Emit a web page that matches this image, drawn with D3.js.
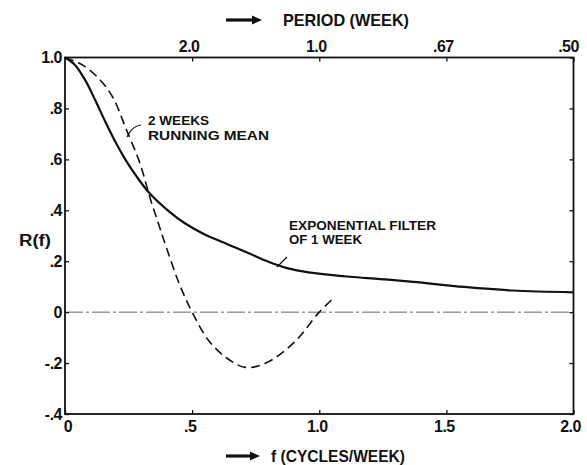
<!DOCTYPE html>
<html>
<head>
<meta charset="utf-8">
<script src="https://cdn.jsdelivr.net/npm/d3@7"></script>
<style>
  html, body { margin: 0; padding: 0; background: #fff; }
  svg { display: block; }
  text { font-family: "Liberation Sans", Arial, sans-serif; font-weight: bold; fill: #111; }
</style>
</head>
<body>
<svg id="chart" width="587" height="465"></svg>
<script>
// ---- data ----
const freqTicks = [0, 0.5, 1.0, 1.5, 2.0];
const freqLabels = ["0", ".5", "1.0", "1.5", "2.0"];
const periodTicks = [0.5, 1.0, 1.5, 2.0];
const periodLabels = ["2.0", "1.0", ".67", ".50"];
const rTicks = [-0.4, -0.2, 0, 0.2, 0.4, 0.6, 0.8, 1.0];
const rLabels = ["-.4", "-.2", "0", ".2", ".4", ".6", ".8", "1.0"];

const expF = [0, 0.04, 0.08, 0.12, 0.16, 0.20, 0.24, 0.28, 0.33, 0.41, 0.47, 0.54, 0.60, 0.67, 0.73, 0.80, 0.87, 0.93, 0.99, 1.12, 1.24, 1.37, 1.57, 1.76, 2.0];
const expR = [1.0, 0.97, 0.91, 0.83, 0.745, 0.665, 0.595, 0.535, 0.47, 0.395, 0.35, 0.31, 0.283, 0.254, 0.228, 0.198, 0.174, 0.161, 0.152, 0.139, 0.13, 0.119, 0.099, 0.085, 0.078];

const runF = [0, 0.07, 0.14, 0.19, 0.24, 0.295, 0.334, 0.37, 0.40, 0.45, 0.50, 0.564, 0.636, 0.71, 0.79, 0.90, 1.0, 1.055];
const runR = [1.0, 0.97, 0.91, 0.84, 0.72, 0.584, 0.45, 0.34, 0.25, 0.11, 0.0, -0.11, -0.18, -0.217, -0.20, -0.12, 0.0, 0.054];

// ---- chart ----
const svg = d3.select("#chart");
const x = d3.scaleLinear().domain([0, 2]).range([65, 573.5]);
const y = d3.scaleLinear().domain([-0.4, 1.0]).range([414, 57.5]);
const ink = "#111";

// zero line (dash-dot)
svg.append("line")
  .attr("x1", x(0)).attr("x2", x(2)).attr("y1", y(0)).attr("y2", y(0))
  .attr("stroke", "#666").attr("stroke-width", 1)
  .attr("stroke-dasharray", "18,3,3,3");

// axes (ticks inward)
const tickLen = 4;
const axLeft = svg.append("g").attr("transform", `translate(${x(0)},0)`)
  .call(d3.axisRight(y).tickValues(rTicks).tickSize(tickLen).tickFormat(""));
const axRight = svg.append("g").attr("transform", `translate(${x(2)},0)`)
  .call(d3.axisLeft(y).tickValues(rTicks).tickSize(tickLen).tickFormat(""));
const axBottom = svg.append("g").attr("transform", `translate(0,${y(-0.4)})`)
  .call(d3.axisTop(x).tickValues(freqTicks).tickSize(tickLen).tickFormat(""));
const axTop = svg.append("g").attr("transform", `translate(0,${y(1.0)})`)
  .call(d3.axisBottom(x).tickValues(periodTicks).tickSize(tickLen).tickFormat(""));
[axLeft, axRight, axBottom, axTop].forEach(g => {
  g.select(".domain").remove();
  g.selectAll(".tick line").attr("stroke", ink).attr("stroke-width", 1.3);
});

// frame
svg.append("rect")
  .attr("x", x(0)).attr("y", y(1.0))
  .attr("width", x(2) - x(0)).attr("height", y(-0.4) - y(1.0))
  .attr("fill", "none").attr("stroke", ink).attr("stroke-width", 1.8);

// tick labels
svg.append("g").selectAll("text").data(rTicks).join("text")
  .attr("x", x(0) - 3).attr("y", d => y(d)).attr("dy", "0.36em")
  .attr("text-anchor", "end").attr("font-size", 16)
  .attr("letter-spacing", -0.5)
  .text((d, i) => rLabels[i]);
svg.append("g").selectAll("text").data(freqTicks).join("text")
  .attr("x", (d, i) => x(d) + (i === 0 ? 3 : (i === freqTicks.length - 1 ? -3 : -2)))
  .attr("y", 432)
  .attr("text-anchor", "middle").attr("font-size", 16)
  .attr("letter-spacing", -0.5)
  .text((d, i) => freqLabels[i]);
svg.append("g").selectAll("text").data(periodTicks).join("text")
  .attr("x", (d, i) => x(d) + (i === periodTicks.length - 1 ? -5 : -3))
  .attr("y", 52)
  .attr("text-anchor", "middle").attr("font-size", 16)
  .attr("letter-spacing", -0.5)
  .text((d, i) => periodLabels[i]);

// curves
const line = d3.line().x(d => x(d[0])).y(d => y(d[1])).curve(d3.curveCatmullRom.alpha(0.5));
svg.append("path")
  .datum(expF.map((f, i) => [f, expR[i]]))
  .attr("d", line).attr("fill", "none")
  .attr("stroke", ink).attr("stroke-width", 2.2);
svg.append("path")
  .datum(runF.map((f, i) => [f, runR[i]]))
  .attr("d", line).attr("fill", "none")
  .attr("stroke", ink).attr("stroke-width", 1.6)
  .attr("stroke-dasharray", "9,5");

// annotations
function label(txt, tx, ty, len, size) {
  svg.append("text").attr("x", tx).attr("y", ty)
    .attr("font-size", size).attr("textLength", len)
    .attr("lengthAdjust", "spacingAndGlyphs").text(txt);
}
label("2 WEEKS", 148, 125, 61, 13);
label("RUNNING MEAN", 148, 140, 121, 13);
label("EXPONENTIAL FILTER", 289, 230, 147, 13);
label("OF 1 WEEK", 289, 244, 73, 13);
svg.append("path").attr("d", "M141,125 Q132,126 127,137")
  .attr("fill", "none").attr("stroke", ink).attr("stroke-width", 1.2);
svg.append("path").attr("d", "M287,257 L277,267")
  .attr("fill", "none").attr("stroke", ink).attr("stroke-width", 1.2);

// axis titles with arrows
function arrow(x1, x2, yy) {
  svg.append("line").attr("x1", x1).attr("x2", x2 - 8).attr("y1", yy).attr("y2", yy)
    .attr("stroke", ink).attr("stroke-width", 3.2);
  svg.append("path")
    .attr("d", `M${x2 - 10},${yy - 4.5} L${x2},${yy} L${x2 - 10},${yy + 4.5} Z`)
    .attr("fill", ink);
}
arrow(226, 262, 20);
svg.append("text").attr("x", 283).attr("y", 26).attr("font-size", 17)
  .attr("textLength", 126).attr("lengthAdjust", "spacingAndGlyphs").text("PERIOD (WEEK)");
arrow(226, 260, 456);
svg.append("text").attr("x", 271).attr("y", 462).attr("font-size", 17)
  .attr("textLength", 134).attr("lengthAdjust", "spacingAndGlyphs").text("f (CYCLES/WEEK)");
svg.append("text").attr("x", 19).attr("y", 246).attr("font-size", 16)
  .attr("textLength", 32).attr("lengthAdjust", "spacingAndGlyphs").text("R(f)");
</script>
</body>
</html>
